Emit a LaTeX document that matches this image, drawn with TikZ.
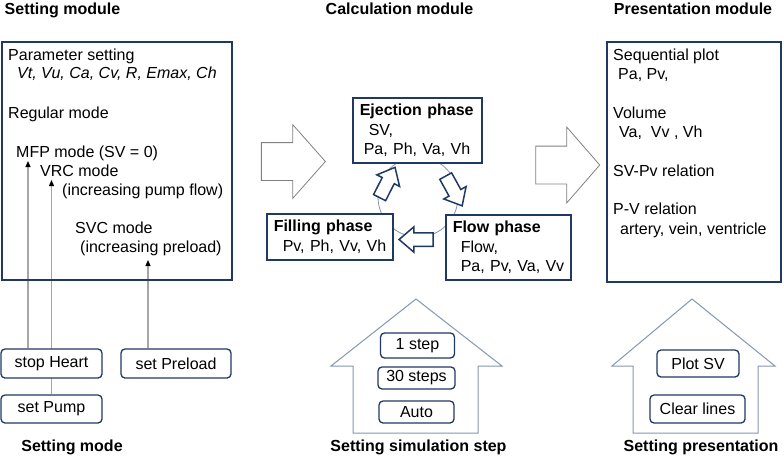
\documentclass[tikz,border=0pt]{standalone}
\usepackage{fontspec}
\setmainfont{Liberation Sans}
\usetikzlibrary{arrows.meta}
\usetikzlibrary{shapes.arrows}
\usetikzlibrary{backgrounds}

\definecolor{navy}{HTML}{1F3864}
\definecolor{slate}{HTML}{8497B0}
\definecolor{arrowgray}{HTML}{808080}
\definecolor{linegray}{HTML}{A6A6A6}

\tikzset{
  modbox/.style={draw=navy, line width=1.5pt, inner sep=0pt},
  phasebox/.style={draw=navy, line width=1.5pt, fill=white, anchor=north west, align=left, inner xsep=5pt, inner ysep=0pt},
  btn/.style={draw=navy, line width=1.3pt, fill=white, rounded corners=4pt, inner sep=0pt},
  txtline/.style={anchor=base west, inner sep=0pt},
  modtitle/.style={anchor=base, inner sep=0pt, font=\bfseries},
  bigarrow/.style={single arrow, draw=arrowgray, line width=0.8pt, inner xsep=0pt, inner ysep=18.5pt, single arrow head indent=0pt, minimum height=64pt},
  cyclearrow/.style={single arrow, draw=navy, line width=1.5pt, fill=white, inner xsep=0pt, inner ysep=6pt, minimum height=34pt, single arrow head extend=6pt, single arrow tip angle=81},
  modeline/.style={draw=linegray, line width=1.2pt, -{Triangle[width=5pt, length=6pt, color=black]}},
  house/.style={draw=slate, line width=1pt},
}

\begin{document}
\fontsize{16pt}{19.2pt}\selectfont
\begin{tikzpicture}[x=1pt, y=-1pt]
  \useasboundingbox (0,0) rectangle (784,456);

  % module titles
  \node[modtitle] (settitle) at (62.5,14) {Setting module};
  \node[modtitle] (calctitle) at (399.5,14) {Calculation module};
  \node[modtitle] (prestitle) at (693,14) {Presentation module};

  % setting module
  \node[modbox, minimum width=230pt, minimum height=238pt] (setbox) at (117,161) {};
  \node[txtline] (parset) at (8,60) {Parameter setting};
  \node[txtline] (parlist) at (17,78) {\textit{Vt, Vu, Ca, Cv, R, Emax, Ch}};
  \node[txtline] (regular) at (8,118) {Regular mode};
  \node[txtline] (mfp) at (16,157) {MFP mode (SV = 0)};
  \node[txtline] (vrc) at (40,176) {VRC mode};
  \node[txtline] (vrcnote) at (62,195) {(increasing pump flow)};
  \node[txtline] (svc) at (75,233) {SVC mode};
  \node[txtline] (svcnote) at (80,252) {(increasing preload)};

  \node[btn, minimum width=101pt, minimum height=29pt] (heart) at (51.5,363.5) {stop Heart};
  \node[btn, minimum width=110pt, minimum height=29pt] (preload) at (176,363.5) {set Preload};
  \node[btn, minimum width=101pt, minimum height=28pt] (pump) at (51.5,409) {set Pump};
  \node[modtitle] (modelabel) at (72,451) {Setting mode};

  \coordinate (mfptip) at (28,161);
  \coordinate (vrctip) at (51.5,180);
  \coordinate (svctip) at (148,260);
  \begin{scope}[on background layer]
    \draw[modeline] (heart.north -| mfptip) -- (mfptip);
    \draw[modeline] (pump.north) -- (vrctip);
    \draw[modeline] (preload.north -| svctip) -- (svctip);
  \end{scope}

  % calculation module
  \node[bigarrow, single arrow head extend=18pt, single arrow tip angle=97] (inarrow) at (285,161.5) {};
  \node[circle, draw=slate, line width=0.8pt, minimum size=80pt, inner sep=0pt] (loop) at (418,197) {};
  \node[phasebox, text width=119pt, minimum height=65pt] (eject) at (352,97)
    {\hspace*{2pt}\textbf{Ejection phase}\\\hspace*{11pt}SV,\\\hspace*{6pt}Pa, Ph, Va, Vh};
  \node[phasebox, text width=116pt, minimum height=46pt] (fill) at (266,213)
    {\hspace*{2pt}\textbf{Filling phase}\\\hspace*{11pt}Pv, Ph, Vv, Vh};
  \node[phasebox, text width=115pt, minimum height=65pt] (flow) at (445,214)
    {\hspace*{2pt}\textbf{Flow phase}\\\hspace*{10pt}Flow,\\\hspace*{10pt}Pa, Pv, Va, Vv};
  \node[cyclearrow, rotate=63] (toeject) at (385.5,186) {};
  \node[cyclearrow, rotate=-61] (toflow) at (452,187.5) {};
  \node[cyclearrow, rotate=180] (tofill) at (420,239.5) {};
  \node[bigarrow, single arrow head extend=19pt, single arrow tip angle=98] (outarrow) at (559.5,165) {};

  \draw[house] (353,433) -- (353,366) -- (331,366) -- (416,299) -- (502,366) -- (478,366) -- (478,433) -- cycle;
  \node[btn, minimum width=74pt, minimum height=25pt] (step1) at (417.5,345.5) {1 step};
  \node[btn, minimum width=77pt, minimum height=22pt] (step30) at (416.5,378) {30 steps};
  \node[btn, minimum width=75pt, minimum height=22pt] (auto) at (416.5,412) {Auto};
  \node[modtitle] (steplabel) at (418.5,451) {Setting simulation step};

  % presentation module
  \node[modbox, minimum width=174pt, minimum height=240pt] (presbox) at (694,162) {};
  \node[txtline] (seqplot) at (613,60) {Sequential plot};
  \node[txtline] (seqlist) at (618,79) {Pa, Pv,};
  \node[txtline] (volume) at (613,118) {Volume};
  \node[txtline] (vollist) at (619,137) {Va,\ \ Vv\ , Vh};
  \node[txtline] (svpv) at (613,176) {SV-Pv relation};
  \node[txtline] (pvrel) at (613,214) {P-V relation};
  \node[txtline] (pvlist) at (620,234) {artery, vein, ventricle};

  \draw[house] (633,433) -- (633,366) -- (612,366) -- (692,299) -- (775,366) -- (758,366) -- (758,433) -- cycle;
  \node[btn, minimum width=82pt, minimum height=27pt] (plotsv) at (698,363.5) {Plot SV};
  \node[btn, minimum width=95pt, minimum height=28pt] (clear) at (697.5,409) {Clear lines};
  \node[modtitle] (preslabel) at (701,451) {Setting presentation};
\end{tikzpicture}
\end{document}
